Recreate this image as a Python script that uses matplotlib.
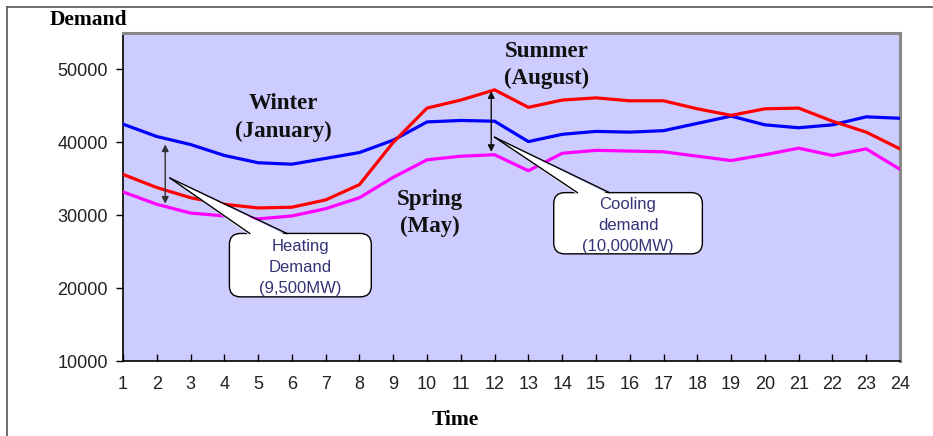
import matplotlib
matplotlib.use("Agg")
from matplotlib import pyplot as plt
from matplotlib.patches import FancyBboxPatch, Polygon
from matplotlib.lines import Line2D
from matplotlib.transforms import IdentityTransform

# Datos (hora 1..24)
hours = list(range(1, 25))
winter = [42500, 40800, 39700, 38200, 37200, 37000, 37800, 38600, 40300, 42800, 43000, 42900,
          40100, 41100, 41500, 41400, 41600, 42600, 43600, 42400, 42000, 42400, 43500, 43300]
summer = [35600, 33800, 32400, 31500, 31000, 31100, 32100, 34200, 40000, 44700, 45800, 47200,
          44800, 45800, 46100, 45700, 45700, 44600, 43700, 44600, 44700, 42900, 41400, 39100]
spring = [33200, 31500, 30300, 29900, 29500, 29900, 30900, 32400, 35200, 37600, 38100, 38300,
          36100, 38500, 38900, 38800, 38700, 38100, 37500, 38300, 39200, 38200, 39100, 36300]
yticks = [10000, 20000, 30000, 40000, 50000]

serif = "Liberation Serif"
sans = "Liberation Sans"

W, H = 933, 436
fig = plt.figure(figsize=(W / 100, H / 100), dpi=100)
ax = fig.add_axes([123 / W, 1 - 361 / H, (900 - 123) / W, (361 - 33) / H])
ax.set_facecolor("#CCCCFF")

ax.plot(hours, winter, color="#0000FF", lw=2.3, solid_joinstyle="round", zorder=3)
ax.plot(hours, summer, color="#FF0000", lw=2.3, solid_joinstyle="round", zorder=3)
ax.plot(hours, spring, color="#FF00FF", lw=2.3, solid_joinstyle="round", zorder=3)

ax.set_xlim(1, 24)
ax.set_ylim(10000, 55000)
ax.set_xticks(hours)
ax.set_xticklabels([str(h) for h in hours], fontsize=13, family=sans, color="#222222")
ax.set_yticks(yticks)
ax.set_yticklabels([str(v) for v in yticks], fontsize=13, family=sans, color="#222222")
ax.tick_params(axis="x", direction="in", length=5, pad=11, width=1)
ax.tick_params(axis="y", direction="out", length=5, pad=6, width=1)

for s in ["top", "right"]:
    ax.spines[s].set_color("#888888")
    ax.spines[s].set_linewidth(2.2)
for s in ["left", "bottom"]:
    ax.spines[s].set_color("black")
    ax.spines[s].set_linewidth(1.2)

# Títulos de ejes
fig.text(88 / W, 1 - 20 / H, "Demand", family=serif, weight="bold", fontsize=15.5,
         ha="center", va="center")
fig.text(455 / W, 1 - 420 / H, "Time", family=serif, weight="bold", fontsize=15.5,
         ha="center", va="center")

# Etiquetas de estaciones
lab = dict(family=serif, weight="bold", fontsize=16.5, ha="center", va="center",
           linespacing=1.38, color="#111111")
ax.text(5.76, 43400, "Winter\n(January)", **lab)
ax.text(13.54, 50600, "Summer\n(August)", **lab)
ax.text(10.08, 30300, "Spring\n(May)", **lab)

# Flechas dobles
ax.annotate("", xy=(2.25, 31200), xytext=(2.25, 40100),
            arrowprops=dict(arrowstyle="<|-|>", color="#333333", lw=1, mutation_scale=10),
            zorder=4)
ax.annotate("", xy=(11.9, 38300), xytext=(11.9, 47400),
            arrowprops=dict(arrowstyle="<|-|>", color="#111111", lw=1, mutation_scale=10),
            zorder=4)


def callout(x0, y0, x1, y1, base_a, base_b, tip, text):
    # coordenadas en datos -> píxeles de pantalla
    T = ax.transData.transform
    (px0, py0), (px1, py1) = T((x0, y0)), T((x1, y1))
    box = FancyBboxPatch((px0, py0), px1 - px0, py1 - py0,
                         boxstyle="round,pad=0,rounding_size=11",
                         transform=IdentityTransform(), facecolor="white",
                         edgecolor="black", lw=1, zorder=5)
    ax.add_patch(box)
    a = T((base_a, y1))
    b = T((base_b, y1))
    t = T(tip)
    tri = Polygon([(a[0], a[1] - 2), t, (b[0], b[1] - 2)], closed=True,
                  transform=IdentityTransform(), facecolor="white", edgecolor="none",
                  zorder=6)
    ax.add_patch(tri)
    for p in (a, b):
        ax.add_line(Line2D([p[0], t[0]], [p[1], t[1]], color="black", lw=1,
                           transform=IdentityTransform(), zorder=7))
    ax.text((x0 + x1) / 2, (y0 + y1) / 2 - 300, text, family=sans, fontsize=12,
            color="#333377", ha="center", va="center", linespacing=1.5, zorder=8)


callout(4.15, 18800, 8.35, 27500, 4.75, 5.85, (2.39, 35100),
        "Heating\nDemand\n(9,500MW)")
callout(13.75, 24700, 18.15, 33100, 14.45, 15.4, (12.0, 40700),
        "Cooling\ndemand\n(10,000MW)")

# Marco exterior
fig.add_artist(Line2D([7 / W, 7 / W], [0, 1 - 7 / H], color="#555555", lw=1.2))
fig.add_artist(Line2D([7 / W, 1], [1 - 7 / H, 1 - 7 / H], color="#555555", lw=1.2))

fig.savefig("out.png", dpi=100)
